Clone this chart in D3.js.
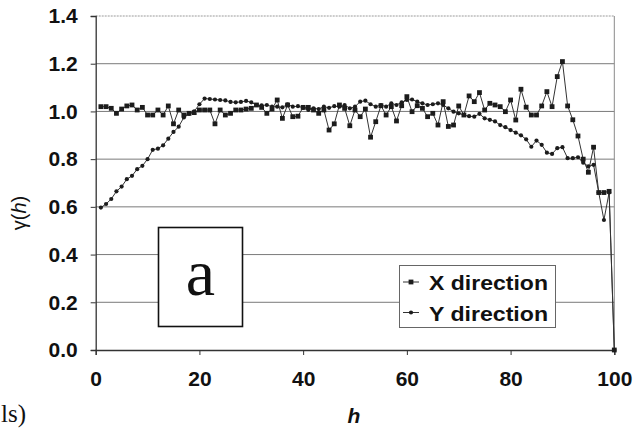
<!DOCTYPE html>
<html>
<head>
<meta charset="utf-8">
<script src="https://cdn.jsdelivr.net/npm/d3@7"></script>
<style>
  html, body { margin: 0; padding: 0; background: #fff; }
  svg { display: block; }
</style>
</head>
<body>
<svg id="chart" width="639" height="429"></svg>
<script>
// Lag distances h = 1..100
const lags = d3.range(1, 101);

// Semivariogram, X direction
const xDirection = [
  1.020, 1.020, 1.013, 0.992, 1.010, 1.023, 1.027, 1.006, 1.017, 0.985,
  0.985, 1.006, 0.985, 1.023, 0.948, 1.006, 0.985, 0.992, 0.995, 1.006,
  1.006, 1.006, 0.948, 1.006, 0.985, 0.992, 1.006, 1.006, 1.010, 1.013,
  1.027, 1.017, 0.992, 1.010, 1.048, 0.971, 1.027, 0.978, 0.980, 1.017,
  1.017, 1.006, 0.992, 1.006, 0.922, 0.948, 1.027, 1.013, 0.940, 1.006,
  0.978, 1.010, 0.892, 0.957, 1.024, 0.985, 1.020, 0.960, 1.024, 1.062,
  0.999, 1.024, 1.013, 0.978, 0.992, 0.943, 1.041, 0.937, 0.943, 1.023,
  0.985, 1.065, 1.041, 1.079, 1.006, 1.034, 1.027, 1.020, 0.999, 1.048,
  0.964, 1.093, 1.018, 0.985, 0.985, 1.023, 1.083, 1.020, 1.146, 1.209,
  1.023, 0.965, 0.897, 0.800, 0.745, 0.850, 0.660, 0.660, 0.665, 0.000
];

// Semivariogram, Y direction
const yDirection = [
  0.597, 0.612, 0.633, 0.665, 0.685, 0.716, 0.730, 0.758, 0.772, 0.800,
  0.839, 0.844, 0.858, 0.886, 0.914, 0.936, 0.975, 0.990, 1.000, 1.030,
  1.054, 1.052, 1.050, 1.048, 1.046, 1.040, 1.038, 1.040, 1.044, 1.038,
  1.027, 1.025, 1.027, 1.020, 1.020, 1.017, 1.030, 1.020, 1.022, 1.015,
  1.006, 1.013, 1.010, 1.020, 1.015, 1.022, 1.020, 1.027, 1.013, 1.020,
  1.041, 1.045, 1.030, 1.020, 1.027, 1.020, 1.034, 1.027, 1.038, 1.048,
  1.050, 1.041, 1.034, 1.027, 1.030, 1.034, 1.027, 1.013, 0.999, 0.992,
  0.985, 0.980, 0.978, 0.990, 0.971, 0.965, 0.958, 0.943, 0.934, 0.922,
  0.911, 0.900, 0.883, 0.852, 0.878, 0.860, 0.827, 0.822, 0.846, 0.850,
  0.804, 0.804, 0.808, 0.785, 0.770, 0.776, 0.660, 0.545, 0.660, 0.000
];

const seriesNames = ["X direction", "Y direction"];
const xTicks = [0, 20, 40, 60, 80, 100];
const yTicks = [0, 0.2, 0.4, 0.6, 0.8, 1.0, 1.2, 1.4];

const svg = d3.select("#chart");
const plot = { left: 95.7, right: 614.3, top: 16, bottom: 350 };

const x = d3.scaleLinear().domain([0, 100]).range([plot.left, plot.right]);
const y = d3.scaleLinear().domain([0, 1.4]).range([plot.bottom, plot.top]);

const ink = "#1c1c1c";
const tickFont = "'Liberation Sans', Arial, sans-serif";

// Horizontal gridlines
svg.append("g")
  .selectAll("line")
  .data(yTicks.filter(d => d > 0 && d < 1.4))
  .join("line")
  .attr("x1", plot.left).attr("x2", plot.right)
  .attr("y1", d => y(d)).attr("y2", d => y(d))
  .attr("stroke", "#7a7a7a").attr("stroke-width", 1);

// Frame: top (dotted) and right edges
svg.append("line")
  .attr("x1", plot.left).attr("x2", plot.right)
  .attr("y1", y(1.4)).attr("y2", y(1.4))
  .attr("stroke", "#9a9a9a").attr("stroke-width", 1)
  .attr("stroke-dasharray", "2,1");
svg.append("line")
  .attr("x1", plot.right).attr("x2", plot.right)
  .attr("y1", y(1.4)).attr("y2", y(0))
  .attr("stroke", "#8a8a8a").attr("stroke-width", 1);

// Axes
const yAxis = d3.axisLeft(y).tickValues(yTicks).tickFormat(d3.format(".1f"))
  .tickSize(5).tickPadding(13);
const xAxis = d3.axisBottom(x).tickValues(xTicks).tickFormat(d3.format("d"))
  .tickSize(5).tickPadding(16);

const gy = svg.append("g").attr("transform", `translate(${plot.left},0)`).call(yAxis);
const gx = svg.append("g").attr("transform", `translate(0,${plot.bottom})`).call(xAxis);

[gx, gy].forEach(g => {
  g.select(".domain").attr("stroke", "#333").attr("stroke-width", 1.3);
  g.selectAll(".tick line").attr("stroke", "#333").attr("stroke-width", 1);
  g.selectAll(".tick text")
    .attr("fill", "#111")
    .style("font-family", tickFont)
    .style("font-weight", "bold")
    .style("font-size", "21px");
});

// Annotation box "a"
svg.append("rect")
  .attr("x", 158.5).attr("y", 227.5).attr("width", 84).attr("height", 99)
  .attr("fill", "#fff").attr("stroke", "#111").attr("stroke-width", 1.6);
svg.append("text")
  .attr("x", 200.5).attr("y", 295)
  .attr("text-anchor", "middle")
  .style("font-family", "'Liberation Serif', 'Times New Roman', serif")
  .style("font-size", "66px")
  .attr("fill", "#111")
  .text("a");

// Series lines and markers
const line = d3.line().x(d => x(d[0])).y(d => y(d[1]));
const xData = lags.map((h, i) => [h, xDirection[i]]);
const yData = lags.map((h, i) => [h, yDirection[i]]);

svg.append("path").datum(yData)
  .attr("d", line).attr("fill", "none")
  .attr("stroke", "#333").attr("stroke-width", 1);
svg.append("path").datum(xData)
  .attr("d", line).attr("fill", "none")
  .attr("stroke", "#333").attr("stroke-width", 1);

svg.append("g").selectAll("circle")
  .data(yData).join("circle")
  .attr("cx", d => x(d[0])).attr("cy", d => y(d[1]))
  .attr("r", 2.1).attr("fill", ink);

svg.append("g").selectAll("rect")
  .data(xData).join("rect")
  .attr("x", d => x(d[0]) - 2.4).attr("y", d => y(d[1]) - 2.4)
  .attr("width", 4.8).attr("height", 4.8).attr("fill", ink);

// Legend
const legend = svg.append("g");
legend.append("rect")
  .attr("x", 399.5).attr("y", 265.5).attr("width", 156).attr("height", 62)
  .attr("fill", "#fff").attr("stroke", "#666").attr("stroke-width", 1);
seriesNames.forEach((name, i) => {
  const cy = 282 + i * 30.5;
  legend.append("line")
    .attr("x1", 403).attr("x2", 419).attr("y1", cy).attr("y2", cy)
    .attr("stroke", "#333").attr("stroke-width", 1);
  if (i === 0) {
    legend.append("rect").attr("x", 408.6).attr("y", cy - 2.4)
      .attr("width", 4.8).attr("height", 4.8).attr("fill", ink);
  } else {
    legend.append("circle").attr("cx", 411).attr("cy", cy).attr("r", 2.1).attr("fill", ink);
  }
  legend.append("text")
    .attr("x", 429).attr("y", cy + 8)
    .attr("textLength", 119)
    .attr("lengthAdjust", "spacingAndGlyphs")
    .style("font-family", tickFont)
    .style("font-weight", "bold")
    .style("font-size", "21px")
    .attr("fill", "#111")
    .text(name);
});

// Axis titles
svg.append("text")
  .attr("x", 354).attr("y", 423)
  .attr("text-anchor", "middle")
  .style("font-family", tickFont)
  .style("font-weight", "bold")
  .style("font-style", "italic")
  .style("font-size", "21px")
  .attr("fill", "#111")
  .text("h");

const yTitle = svg.append("text")
  .attr("transform", "translate(26,213) rotate(-90)")
  .attr("text-anchor", "middle")
  .style("font-family", tickFont)
  .style("font-size", "20px")
  .attr("fill", "#111");
yTitle.append("tspan").text("\u03B3(");
yTitle.append("tspan").style("font-style", "italic").text("h");
yTitle.append("tspan").text(")");

// Caption fragment at the lower left edge
svg.append("text")
  .attr("x", 1).attr("y", 422)
  .style("font-family", "'Liberation Serif', 'Times New Roman', serif")
  .style("font-size", "25px")
  .attr("fill", "#111")
  .text("ls)");
</script>
</body>
</html>
